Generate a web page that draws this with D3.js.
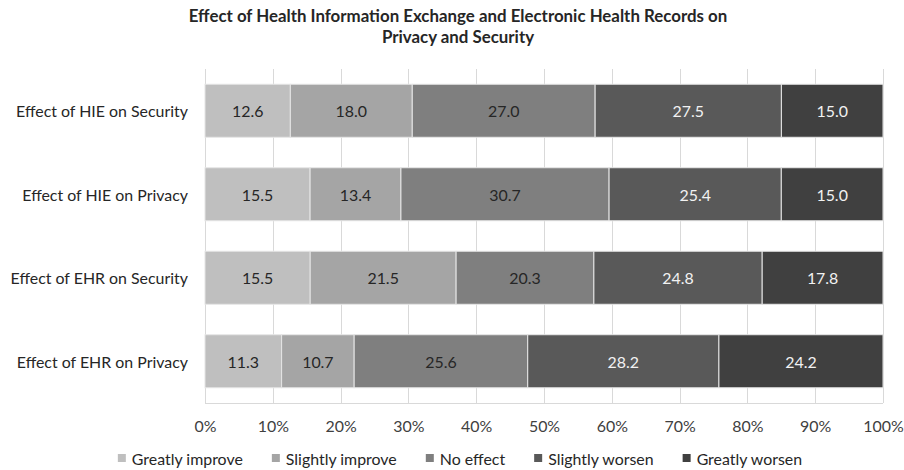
<!DOCTYPE html>
<html>
<head>
<meta charset="utf-8">
<script src="https://cdn.jsdelivr.net/npm/d3@7/dist/d3.min.js"></script>
<style>
  html, body { margin: 0; padding: 0; background: #fff; }
  svg { display: block; }
  text { font-family: Lato, "Open Sans", sans-serif; }
</style>
</head>
<body>
<svg id="chart" width="904" height="470"></svg>
<script>
// ---- data ----
const titleLines = ["Effect of Health Information Exchange and Electronic Health Records on", "Privacy and Security"];
const categories = ["Effect of HIE on Security", "Effect of HIE on Privacy", "Effect of EHR on Security", "Effect of EHR on Privacy"];
const seriesNames = ["Greatly improve", "Slightly improve", "No effect", "Slightly worsen", "Greatly worsen"];
const greatlyImprove = [12.6, 15.5, 15.5, 11.3];
const slightlyImprove = [18.0, 13.4, 21.5, 10.7];
const noEffect = [27.0, 30.7, 20.3, 25.6];
const slightlyWorsen = [27.5, 25.4, 24.8, 28.2];
const greatlyWorsen = [15.0, 15.0, 17.8, 24.2];
const tickValues = [0, 0.1, 0.2, 0.3, 0.4, 0.5, 0.6, 0.7, 0.8, 0.9, 1.0];

const seriesValues = [greatlyImprove, slightlyImprove, noEffect, slightlyWorsen, greatlyWorsen];
const colors = ["#bfbfbf", "#a5a5a5", "#7f7f7f", "#595959", "#404040"];
const labelColors = ["#262626", "#262626", "#262626", "#f2f2f2", "#f2f2f2"];

const svg = d3.select("#chart");

// measure helper for fitting font sizes
function measure(text, weight) {
  const t = svg.append("text").attr("font-size", 100).attr("font-weight", weight).text(text);
  const w = t.node().getComputedTextLength();
  t.remove();
  return w;
}
const baseSize = 100 * 172 / measure(categories[0], "normal");
const titleSize = 100 * 539 / measure(titleLines[0], "bold");

// ---- layout ----
const plot = { left: 205, right: 883, top: 69, bottom: 403 };

const x = d3.scaleLinear().domain([0, 1]).range([plot.left, plot.right]);
const y = d3.scaleBand().domain(categories).range([plot.top, plot.bottom]).paddingInner(0.365).paddingOuter(0.1825);

// table of rows
const rows = categories.map((c, i) => {
  const row = { category: c };
  seriesNames.forEach((s, j) => row[s] = seriesValues[j][i]);
  return row;
});
const normRows = rows.map(r => {
  const total = d3.sum(seriesNames, s => r[s]);
  const o = { category: r.category };
  seriesNames.forEach(s => o[s] = r[s] / total);
  return o;
});
const stack = d3.stack().keys(seriesNames)(normRows);

// title
svg.append("g").selectAll("text").data(titleLines).join("text")
  .attr("x", 458)
  .attr("y", (d, i) => 22 + i * 21)
  .attr("text-anchor", "middle")
  .attr("font-weight", "bold")
  .attr("font-size", titleSize)
  .attr("fill", "#262626")
  .text(d => d);

// gridlines
svg.append("g").selectAll("line").data(tickValues).join("line")
  .attr("x1", d => Math.round(x(d)) + 0.5)
  .attr("x2", d => Math.round(x(d)) + 0.5)
  .attr("y1", plot.top)
  .attr("y2", plot.bottom)
  .attr("stroke", "#d9d9d9")
  .attr("stroke-width", 1);

// bottom axis line
svg.append("line")
  .attr("x1", plot.left).attr("x2", plot.right)
  .attr("y1", plot.bottom + 0.5).attr("y2", plot.bottom + 0.5)
  .attr("stroke", "#d9d9d9");

// x axis tick labels via d3 axis
const xAxis = d3.axisBottom(x).tickValues(tickValues).tickFormat(d3.format(".0%")).tickSize(0).tickPadding(0);
const gx = svg.append("g").attr("transform", `translate(0,${plot.bottom})`).call(xAxis);
gx.select(".domain").remove();
gx.selectAll("text")
  .attr("y", 22)
  .attr("dy", null)
  .attr("dominant-baseline", "central")
  .attr("font-family", "Lato, 'Open Sans', sans-serif")
  .attr("font-size", baseSize)
  .attr("fill", "#404040");

// y axis category labels via d3 axis
const yAxis = d3.axisLeft(y).tickSize(0).tickPadding(17);
const gy = svg.append("g").attr("transform", `translate(${plot.left},0)`).call(yAxis);
gy.select(".domain").remove();
gy.selectAll("text")
  .attr("dy", null)
  .attr("dominant-baseline", "central")
  .attr("font-family", "Lato, 'Open Sans', sans-serif")
  .attr("font-size", baseSize)
  .attr("fill", "#262626");

// bars
const layers = svg.append("g").selectAll("g").data(stack).join("g")
  .attr("fill", (d, i) => colors[i]);
layers.selectAll("rect").data(d => d).join("rect")
  .attr("x", d => x(d[0]))
  .attr("width", d => x(d[1]) - x(d[0]))
  .attr("y", d => y(d.data.category))
  .attr("height", y.bandwidth())
  .attr("stroke", "#e6e6e6")
  .attr("stroke-width", 1);

// value labels
const lbl = svg.append("g").selectAll("g").data(stack).join("g")
  .attr("fill", (d, i) => labelColors[i]);
lbl.selectAll("text").data((d, i) => d.map((v, k) => ({ v, raw: seriesValues[i][k] }))).join("text")
  .attr("x", d => (x(d.v[0]) + x(d.v[1])) / 2)
  .attr("y", d => y(d.v.data.category) + y.bandwidth() / 2)
  .attr("text-anchor", "middle")
  .attr("dominant-baseline", "central")
  .attr("font-size", baseSize)
  .text(d => d3.format(".1f")(d.raw));

// legend
const sq = 8, gapText = 6, gapItem = 29;
const itemWidths = seriesNames.map(s => sq + gapText + measure(s, "normal") * baseSize / 100);
const totalW = d3.sum(itemWidths) + gapItem * (seriesNames.length - 1);
let cx = 460 - totalW / 2;
const legendY = 458;
const lg = svg.append("g");
seriesNames.forEach((s, i) => {
  const g = lg.append("g").attr("transform", `translate(${cx},${legendY})`);
  g.append("rect").attr("x", 0).attr("y", -sq / 2).attr("width", sq).attr("height", sq).attr("fill", colors[i]);
  g.append("text").attr("x", sq + gapText).attr("y", 0)
    .attr("dominant-baseline", "central")
    .attr("font-size", baseSize)
    .attr("fill", "#262626")
    .text(s);
  cx += itemWidths[i] + gapItem;
});
</script>
</body>
</html>
